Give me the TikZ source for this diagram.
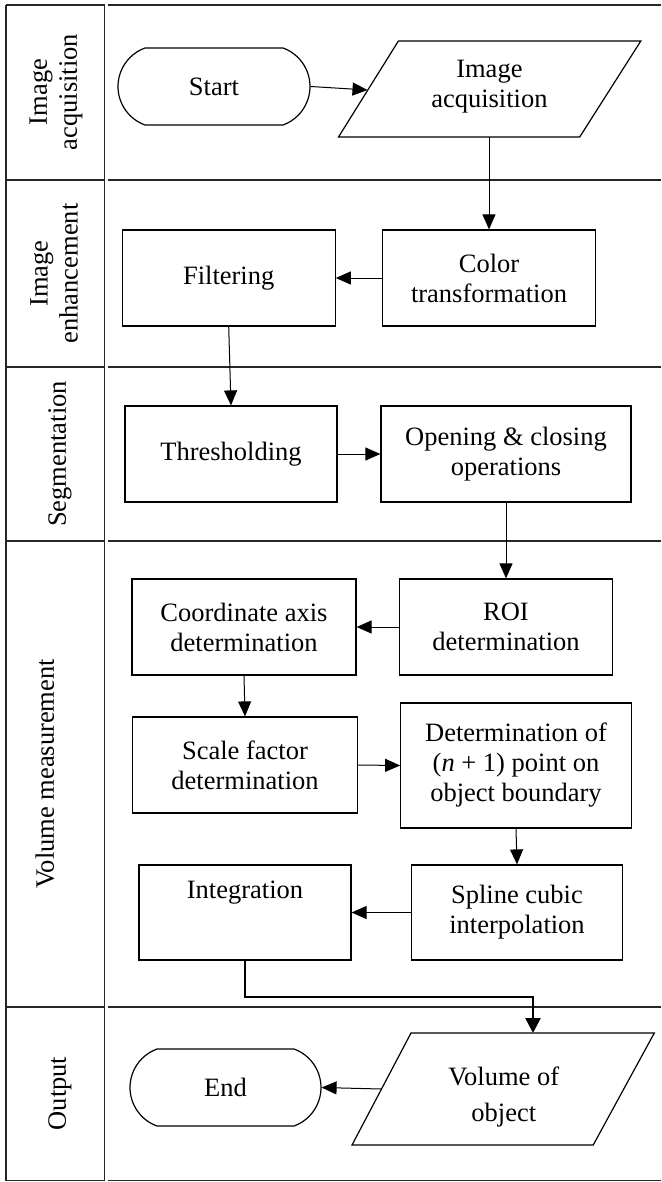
\documentclass[tikz,border=0pt]{standalone}
\usepackage{fontspec}
\setmainfont{Liberation Serif}
\usetikzlibrary{arrows.meta,shapes.misc}
\begin{document}
\begin{tikzpicture}[x=1pt,y=-1pt,
  txt/.style={font=\fontsize{26.5}{30}\selectfont, align=center, inner sep=0pt},
  box/.style={txt, draw, line width=1.2pt, minimum height=96pt},
  term/.style={txt, draw, line width=1.2pt, rounded rectangle, rounded rectangle arc length=140, minimum width=192pt, minimum height=77pt},
  para/.style={draw, line width=1.2pt},
  arr/.style={line width=1pt, -{Triangle[length=15pt,width=13pt]}},
  thickarr/.style={line width=2.6pt, -{Triangle[length=15pt,width=15pt]}},
  lane/.style={line width=1.6pt, black!85},
  lanelbl/.style={txt, rotate=90}]
\useasboundingbox (0,0) rectangle (661,1182);

% swimlane frame
\draw[lane] (6,5) -- (6,1180.5);
\draw[lane] (104.5,5) -- (104.5,1180.5);
\foreach \yy in {5,180,367,541,1007,1180.5}{
  \draw[lane] (6,\yy) -- (104.5,\yy);
  \draw[lane] (107.5,\yy) -- (661,\yy);
}

% lane labels
\node[lanelbl] (l1) at (56,92) {Image\\acquisition};
\node[lanelbl] (l2) at (54,273.5) {Image\\enhancement};
\node[lanelbl] (l3) at (60,454) {Segmentation};
\node[lanelbl] (l4) at (45,774) {Volume measurement};
\node[lanelbl] (l5) at (60,1093.5) {Output};

% lane 1
\node[term] (start) at (214,86.5) {Start};
\coordinate (acqTL) at (398.4,41);
\coordinate (acqTR) at (640.8,41);
\coordinate (acqBR) at (579.7,137);
\coordinate (acqBL) at (338.5,137);
\draw[para] (acqTL) -- (acqTR) -- (acqBR) -- (acqBL) -- cycle;
\node[txt] (acq) at (489.4,87) {Image\\acquisition};
\coordinate (acqL) at (367.5,90);
\coordinate (acqB) at (489,137);

% lane 2
\node[box, minimum width=212.5pt] (color) at (489,278) {Color\\transformation};
\node[box, minimum width=213pt] (filt) at (228.7,278) {Filtering};

% lane 3
\node[box, minimum width=212pt] (thr) at (231,454) {Thresholding};
\node[box, minimum width=250pt] (open) at (506,454) {Opening \& closing\\operations};

% lane 4
\node[box, minimum width=212.4pt] (roi) at (506,627) {ROI\\determination};
\node[box, minimum width=224pt] (coord) at (244,627) {Coordinate axis\\determination};
\node[box, minimum width=225pt] (scale) at (245,765) {Scale factor\\determination};
\node[box, minimum width=230.6pt, minimum height=125pt] (det) at (516,765.5) {Determination of\\(\textit{n} + 1) point on\\object boundary};
\node[box, minimum width=211.7pt, minimum height=95pt] (spline) at (517,912.5) {Spline cubic\\interpolation};
\node[box, minimum width=212pt, minimum height=95pt] (integ) at (245,912.5) {};
\node[txt] (integtxt) at (245,893) {Integration};

% lane 5
\coordinate (volTL) at (411,1033);
\coordinate (volTR) at (654.3,1033);
\coordinate (volBR) at (593.2,1145);
\coordinate (volBL) at (352,1145);
\draw[para] (volTL) -- (volTR) -- (volBR) -- (volBL) -- cycle;
\node[txt, font=\fontsize{26.5}{36}\selectfont] (vol) at (503.8,1097) {Volume of\\object};
\coordinate (volT) at (533,1033);
\coordinate (volL) at (381.5,1089);
\node[term, minimum width=191pt] (end) at (225.5,1087.5) {End};

% connectors
\draw[arr] (start.east) -- (acqL);
\draw[arr] (acqB) -- (color.north);
\draw[arr] (color.west) -- (filt.east);
\draw[arr] (filt.south) -- (thr.north);
\draw[arr] (thr.east) -- (open.west);
\draw[arr] (open.south) -- (roi.north);
\draw[arr] (roi.west) -- (coord.east);
\draw[arr] (coord.south) -- (scale.north);
\draw[arr] (scale.east) -- (det.west);
\draw[arr] (det.south) -- (spline.north);
\draw[arr] (spline.west) -- (integ.east);
\coordinate (bend) at (245,997);
\draw[thickarr] (integ.south) -- (bend) -| (volT);
\draw[arr] (volL) -- (end.east);
\end{tikzpicture}
\end{document}
